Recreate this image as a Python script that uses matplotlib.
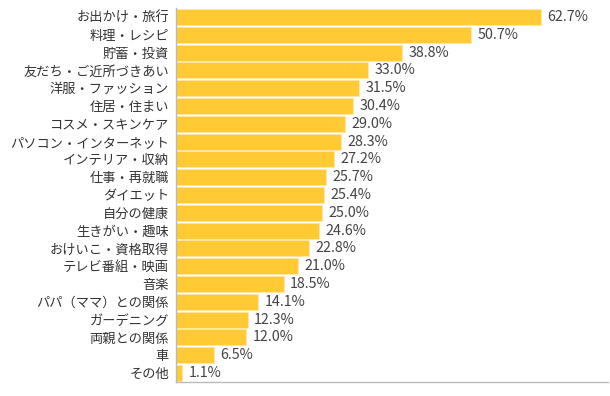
import matplotlib
matplotlib.use("Agg")
import matplotlib.pyplot as plt

plt.rcParams['font.family'] = ['Noto Sans CJK JP', 'DejaVu Sans']

labels = ["お出かけ・旅行", "料理・レシピ", "貯蓄・投資", "友だち・ご近所づきあい",
          "洋服・ファッション", "住居・住まい", "コスメ・スキンケア", "パソコン・インターネット",
          "インテリア・収納", "仕事・再就職", "ダイエット", "自分の健康", "生きがい・趣味",
          "おけいこ・資格取得", "テレビ番組・映画", "音楽", "パパ（ママ）との関係",
          "ガーデニング", "両親との関係", "車", "その他"]
values = [62.7, 50.7, 38.8, 33.0, 31.5, 30.4, 29.0, 28.3, 27.2, 25.7, 25.4,
          25.0, 24.6, 22.8, 21.0, 18.5, 14.1, 12.3, 12.0, 6.5, 1.1]

fig = plt.figure(figsize=(6.1, 3.96), dpi=100)
ax = fig.add_axes([0.2885, 0.0354, 0.7082, 0.9444])

y = list(range(len(labels)))
ax.barh(y, values, height=0.9, color="#FFCA33", edgecolor="#FFE9A8", linewidth=0.5)
for yi, v in zip(y, values):
    ax.text(v + 1.1, yi, f"{v:.1f}%", va="center", ha="left", fontsize=10.3,
            color="#444444")

ax.set_yticks(y)
ax.set_yticklabels(labels, fontsize=9.5, color="#333333")
ax.set_ylim(len(labels) - 0.5, -0.5)
ax.set_xlim(0, 74.2)
ax.set_xticks([])
ax.tick_params(axis="y", length=0, pad=5)
for s in ["top", "right"]:
    ax.spines[s].set_visible(False)
for s in ["left", "bottom"]:
    ax.spines[s].set_color("#BBBBBB")
    ax.spines[s].set_linewidth(1)

fig.savefig("out.png", dpi=100)
